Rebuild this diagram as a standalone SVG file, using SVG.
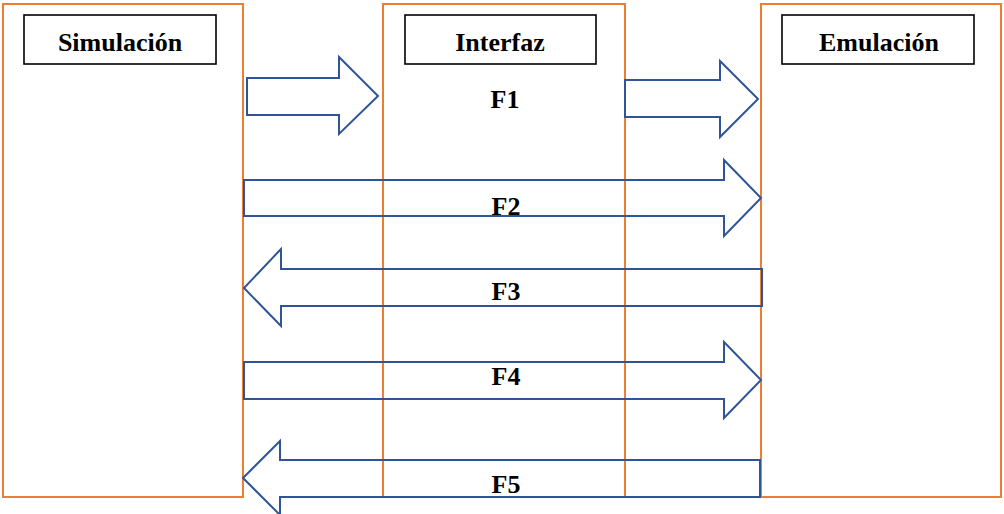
<svg xmlns="http://www.w3.org/2000/svg" width="1004" height="514" viewBox="0 0 1004 514">
  <style>
    .panel { fill: none; stroke: #ED7D31; stroke-width: 2; }
    .title { fill: #fff; stroke: #000; stroke-width: 1.6; }
    .lbl { font-family: "Liberation Serif", "Times New Roman", serif; font-weight: bold; font-size: 26px; fill: #000; text-anchor: middle; }
    .arrow { fill: none; stroke: #2F5597; stroke-width: 2; stroke-linejoin: miter; }
  </style>
  <rect width="1004" height="514" fill="#fff"/>

  <g id="simulacion">
    <rect class="panel" x="3" y="4" width="240" height="493"/>
    <rect class="title" x="24" y="15" width="192" height="49"/>
    <text class="lbl" x="120" y="51">Simulación</text>
  </g>

  <g id="interfaz">
    <rect class="panel" x="383" y="4" width="242" height="493"/>
    <rect class="title" x="405" y="15" width="191" height="49"/>
    <text class="lbl" x="500" y="51">Interfaz</text>
  </g>

  <g id="emulacion">
    <rect class="panel" x="761" y="4" width="240" height="493"/>
    <rect class="title" x="782" y="15" width="192" height="49"/>
    <text class="lbl" x="879" y="51">Emulación</text>
  </g>

  <g id="connectors">
    <!-- Simulación -> Interfaz -->
    <polygon class="arrow" points="247,78 339,78 339,57 378,96 339,134 339,115 247,115"/>
    <!-- Interfaz -> Emulación -->
    <polygon class="arrow" points="625,80 720,80 720,61 758,99 720,137 720,117 625,117"/>
    <!-- F2 -->
    <polygon class="arrow" points="244,180 724,180 724,160 761,198 724,236 724,216 244,216"/>
    <!-- F3 -->
    <polygon class="arrow" points="762,269 281,269 281,249 244,288 281,326 281,306 762,306"/>
    <!-- F4 -->
    <polygon class="arrow" points="244,362 724,362 724,342 761,380 724,418 724,399 244,399"/>
    <!-- F5 -->
    <polygon class="arrow" points="760,460 280,460 280,441 243,478 280,515 280,497 760,497"/>
  </g>

  <g id="labels">
    <text class="lbl" x="505" y="108">F1</text>
    <text class="lbl" x="506" y="215">F2</text>
    <text class="lbl" x="506" y="300">F3</text>
    <text class="lbl" x="506" y="385">F4</text>
    <text class="lbl" x="506" y="493">F5</text>
  </g>
</svg>
